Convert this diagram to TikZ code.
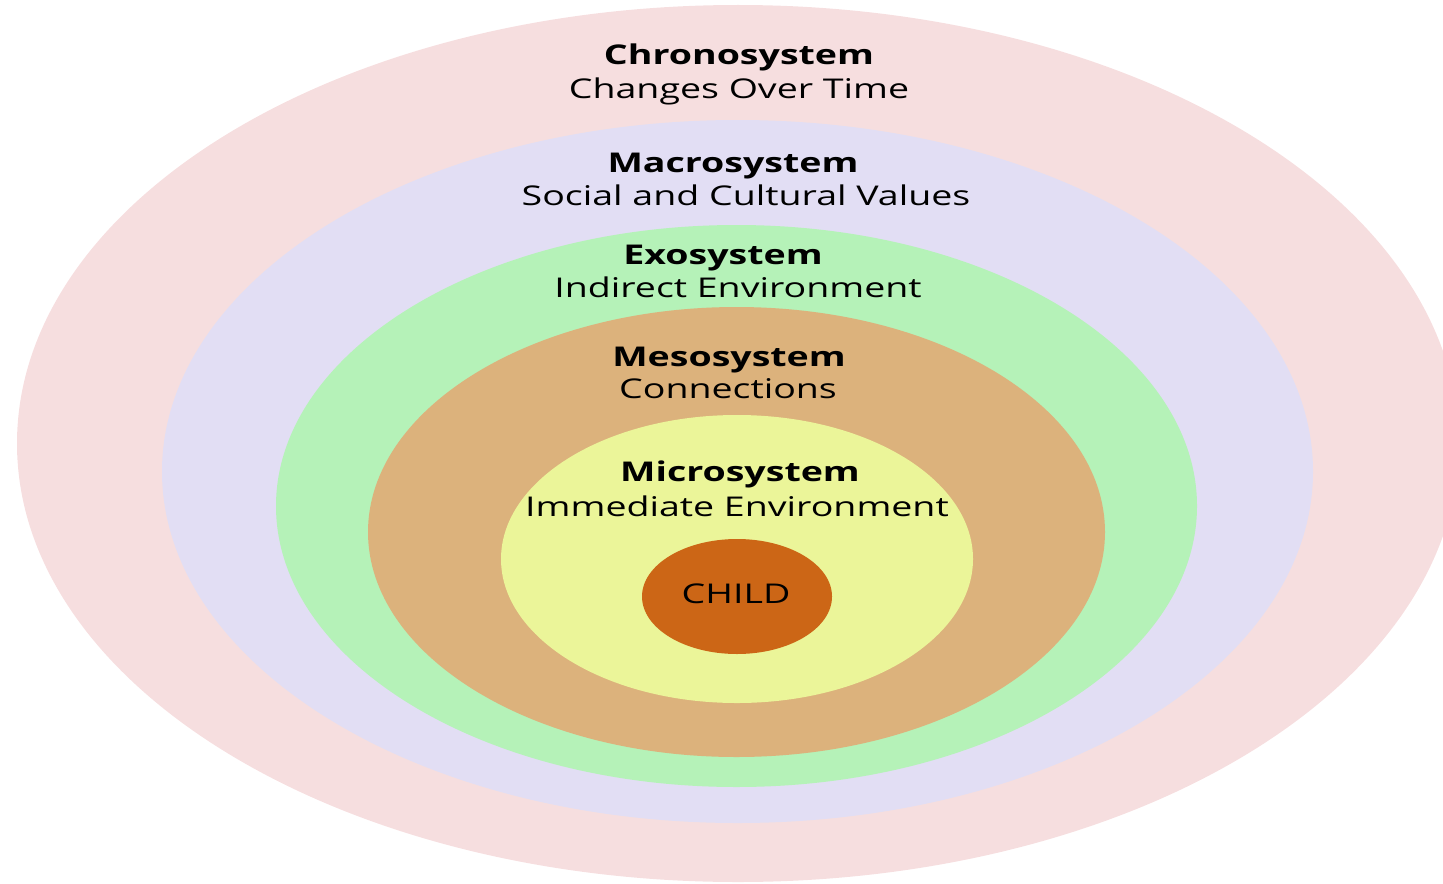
\documentclass[tikz,border=0pt]{standalone}
\usepackage{fontspec}
\setmainfont{Open Sans}[FakeStretch=1.38]
\definecolor{chronofill}{HTML}{F6DEDF}
\definecolor{macrofill}{HTML}{E2DEF4}
\definecolor{exofill}{HTML}{B5F2B8}
\definecolor{mesofill}{HTML}{DCB27C}
\definecolor{microfill}{HTML}{EBF599}
\definecolor{childfill}{HTML}{CC6616}

\begin{document}
\begin{tikzpicture}[line cap=round,line join=round,x=0.5pt,y=-0.5pt,
	title/.style={anchor=base,inner sep=0pt,font=\fontsize{13.6}{16}\selectfont\bfseries},
	sub/.style={anchor=base,inner sep=0pt,font=\fontsize{13.6}{16}\selectfont}]
		\useasboundingbox (0,0) rectangle (1443,883);
		\clip (0,0) rectangle (1443,883);
		% rings, outside in
		\fill [chronofill] (738,443.5) ellipse (721 and 438.5);
		\fill [macrofill] (737.5,471.5) ellipse (575.5 and 351.5);
		\fill [exofill] (736.5,506) ellipse (460.5 and 281);
		\fill [mesofill] (736.5,532) ellipse (368.5 and 225);
		\fill [microfill] (737,559) ellipse (236 and 144);
		\fill [childfill] (737,596.5) ellipse (95 and 57.5);
		% labels
		\node[title] (chronoT) at (739,65) {Chronosystem};
		\node[sub] (chronoS) at (739,98) {Changes Over Time};
		\node[title] (macroT) at (733,172) {Macrosystem};
		\node[sub] (macroS) at (746,205) {Social and Cultural Values};
		\node[title] (exoT) at (723,264) {Exosystem};
		\node[sub] (exoS) at (738,297) {Indirect Environment};
		\node[title] (mesoT) at (729,366) {Mesosystem};
		\node[sub] (mesoS) at (728,398) {Connections};
		\node[title] (microT) at (740,481) {Microsystem};
		\node[sub] (microS) at (737,516) {Immediate Environment};
		\node[sub] (child) at (736,603) {CHILD};
	\end{tikzpicture}
\end{document}
